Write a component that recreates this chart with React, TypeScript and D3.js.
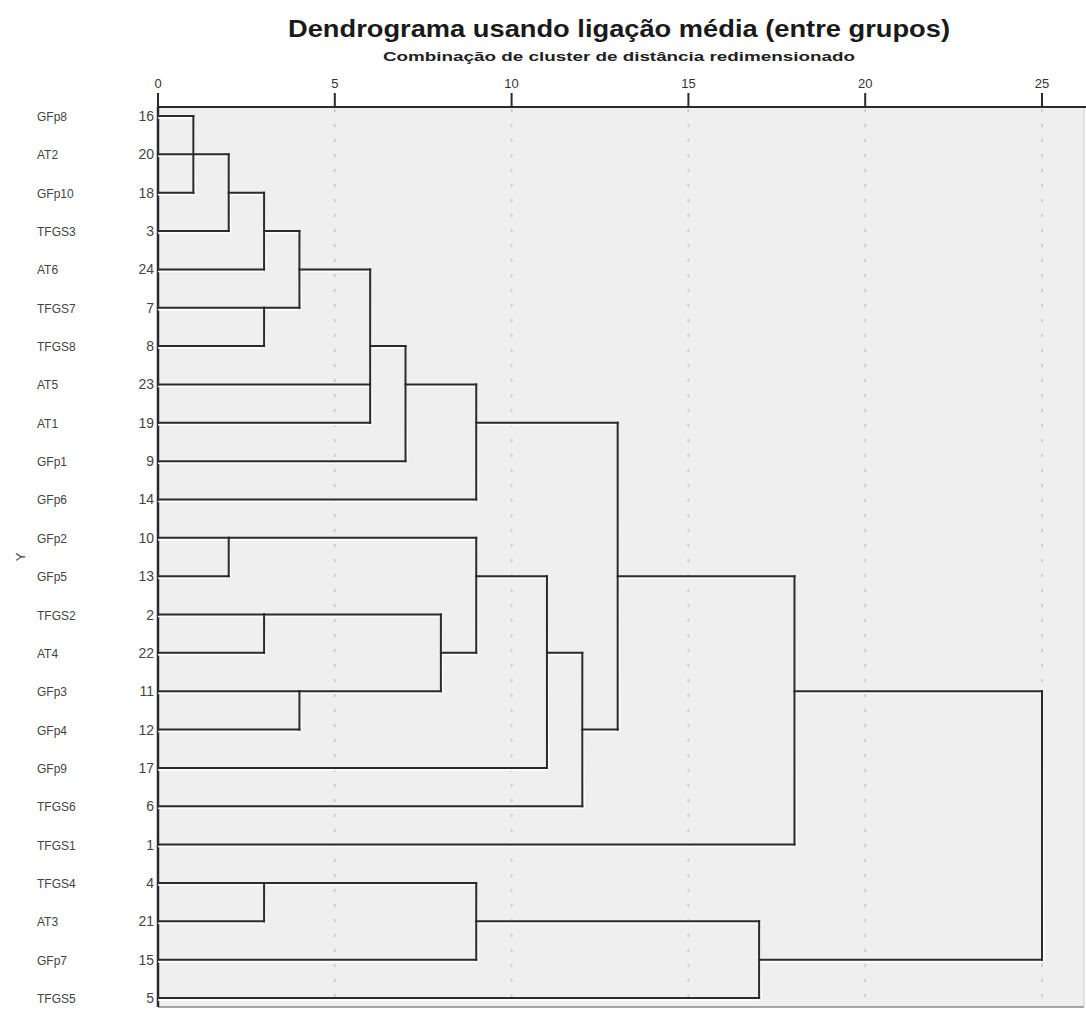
import React from "react";
import * as d3 from "d3";

const leafNames = ["GFp8","AT2","GFp10","TFGS3","AT6","TFGS7","TFGS8","AT5","AT1","GFp1","GFp6","GFp2","GFp5","TFGS2","AT4","GFp3","GFp4","GFp9","TFGS6","TFGS1","TFGS4","AT3","GFp7","TFGS5"];
const leafIds = [16,20,18,3,24,7,8,23,19,9,14,10,13,2,22,11,12,17,6,1,4,21,15,5];

// merges: children references ("L#" leaf index, "M#" merge index) and rescaled distance
const mergeChildren: string[][] = [
  ["L0","L1","L2"],
  ["M0","L3"],
  ["M1","L4"],
  ["L5","L6"],
  ["M2","M3"],
  ["M4","L7","L8"],
  ["M5","L9"],
  ["M6","L10"],
  ["L11","L12"],
  ["L13","L14"],
  ["L15","L16"],
  ["M9","M10"],
  ["M8","M11"],
  ["M12","L17"],
  ["M13","L18"],
  ["M7","M14"],
  ["M15","L19"],
  ["L20","L21"],
  ["M17","L22"],
  ["M18","L23"],
  ["M16","M19"],
];
const mergeHeights = [1,2,3,3,4,6,7,9,2,3,4,8,9,11,12,13,18,3,9,17,25];

const xTicks = [0,5,10,15,20,25];
const titleText = "Dendrograma usando ligação média (entre grupos)";
const subtitleText = "Combinação de cluster de distância redimensionado";
const yLabel = "Y";

const W = 1086, H = 1010;
const plotLeft = 158, plotRight = 1084, plotTop = 107, plotBottom = 1007;

export default function App() {
  const x = d3.scaleLinear().domain([0, 25]).range([158, 1042]);
  const y = d3.scaleLinear().domain([0, leafNames.length - 1]).range([116, 998]);

  // compute positions
  const pos: Record<string, number> = {};
  const hgt: Record<string, number> = {};
  leafNames.forEach((_, i) => { pos["L" + i] = i; hgt["L" + i] = 0; });
  const segs: { x1: number; y1: number; x2: number; y2: number }[] = [];
  mergeChildren.forEach((ch, m) => {
    const h = mergeHeights[m];
    const ps = ch.map(c => pos[c]);
    const mn = Math.min(...ps), mx = Math.max(...ps);
    ch.forEach(c => {
      segs.push({ x1: x(hgt[c]), y1: y(pos[c]), x2: x(h), y2: y(pos[c]) });
    });
    segs.push({ x1: x(h), y1: y(mn), x2: x(h), y2: y(mx) });
    pos["M" + m] = Math.floor((mn + mx) / 2);
    hgt["M" + m] = h;
  });

  const font = "'Liberation Sans', Arial, sans-serif";

  return (
    <svg width={W} height={H} style={{ position: "absolute", left: 0, top: 0, background: "#fff" }} fontFamily={font}>
      <rect x={plotLeft} y={plotTop} width={plotRight - plotLeft} height={plotBottom - plotTop} fill="#efefef" />
      {xTicks.slice(1).map(t => (
        <line key={"g" + t} x1={x(t)} x2={x(t)} y1={plotTop + 2} y2={plotBottom} stroke="#cfcfcf" strokeWidth={2} strokeDasharray="3,12" />
      ))}
      <line x1={plotLeft} x2={plotRight} y1={plotBottom} y2={plotBottom} stroke="#888" strokeWidth={1.5} />
      <line x1={plotRight} x2={plotRight} y1={plotTop} y2={plotBottom} stroke="#ccc" strokeWidth={1} />
      {/* axis */}
      <line x1={plotLeft - 1} x2={W} y1={plotTop} y2={plotTop} stroke="#2a2a2a" strokeWidth={2} />
      {xTicks.map(t => (
        <g key={"t" + t}>
          <line x1={x(t)} x2={x(t)} y1={93} y2={plotTop} stroke="#2a2a2a" strokeWidth={2} />
          <text x={x(t)} y={88} textAnchor="middle" fontSize={13} fill="#333">{t}</text>
        </g>
      ))}
      <line x1={plotLeft} x2={plotLeft} y1={plotTop} y2={plotBottom} stroke="#2a2a2a" strokeWidth={2.5} />
      {/* dendrogram */}
      {segs.map((s, i) => (
        <line key={"h" + i} x1={s.x1} y1={s.y1 + 2} x2={s.x2 + (s.y1 === s.y2 ? 0 : 2)} y2={s.y2 + 2} stroke="#ffffff" strokeWidth={1.5} />
      ))}
      {segs.map((s, i) => (
        <line key={"s" + i} x1={s.x1} y1={s.y1} x2={s.x2} y2={s.y2} stroke="#2b2b2b" strokeWidth={2} strokeLinecap="square" />
      ))}
      {/* labels */}
      {leafNames.map((n, i) => (
        <g key={"l" + i}>
          <text x={37} y={y(i) + 5} fontSize={12} fill="#444">{n}</text>
          <text x={154} y={y(i) + 5} textAnchor="end" fontSize={14} fill="#444">{leafIds[i]}</text>
        </g>
      ))}
      <text transform={`translate(25,557) rotate(-90)`} textAnchor="middle" fontSize={13} fill="#444">{yLabel}</text>
      <text x={619} y={37} textAnchor="middle" fontSize={24} fontWeight="bold" fill="#1a1a1a" textLength={662} lengthAdjust="spacingAndGlyphs">{titleText}</text>
      <text x={619} y={61} textAnchor="middle" fontSize={12} fontWeight="bold" fill="#222" textLength={472} lengthAdjust="spacingAndGlyphs">{subtitleText}</text>
    </svg>
  );
}
